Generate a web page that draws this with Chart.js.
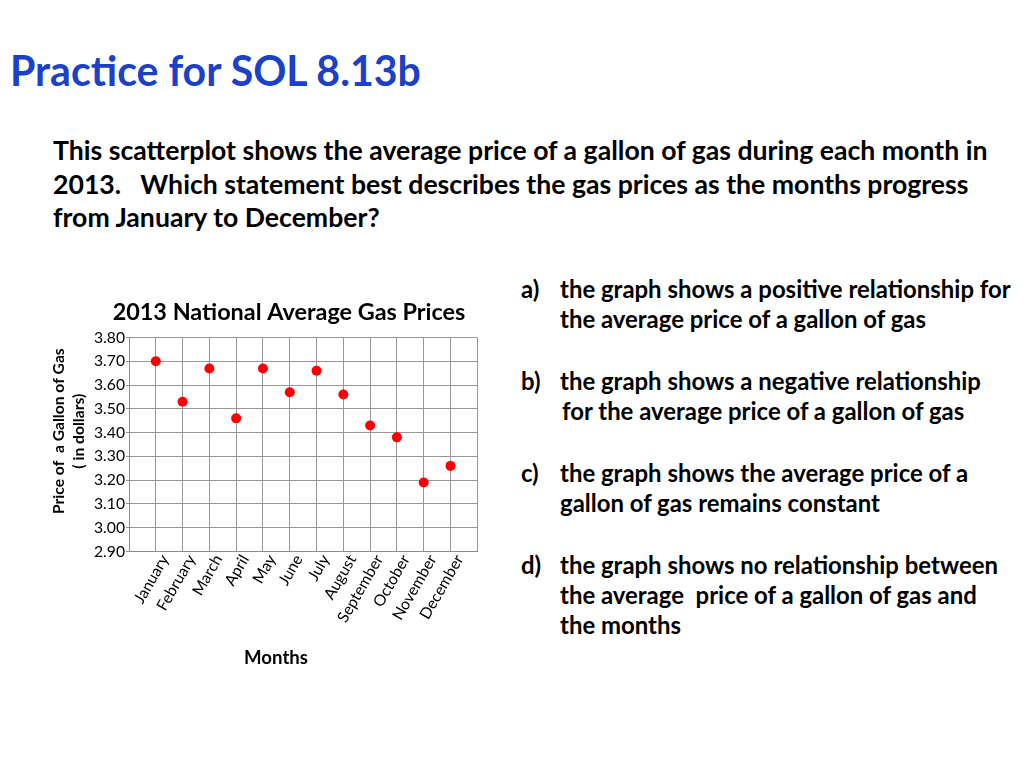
<!DOCTYPE html>
<html>
<head>
<meta charset="utf-8">
<script src="https://cdn.jsdelivr.net/npm/chart.js@4.4.1/dist/chart.umd.min.js"></script>
<style>
html,body{margin:0;padding:0;background:#fff;width:1024px;height:768px;overflow:hidden;font-family:Lato,'Open Sans',sans-serif;}
.t{position:absolute;white-space:pre;font-weight:bold;line-height:1;color:#000;left:0;top:0;}
.bl{display:inline-block;width:0;height:0;vertical-align:baseline;}
#title{color:#1c40c8;}
#chartBox{position:absolute;left:30px;top:290px;width:518px;height:400px;}
</style>
</head>
<body>
<div id="title" class="t g-title" data-x="10" data-b="86">Practice for SOL 8.13b<i class="bl"></i></div>

<div id="p1" class="t g-para" data-x="53" data-b="160">This scatterplot shows the average price of a gallon of gas during each month in<i class="bl"></i></div>
<div class="t g-para" data-x="53" data-b="193.5">2013.   Which statement best describes the gas prices as the months progress<i class="bl"></i></div>
<div class="t g-para" data-x="53" data-b="227">from January to December?<i class="bl"></i></div>

<div class="t g-opt" data-x="521" data-b="298">a)<i class="bl"></i></div>
<div id="a1" class="t g-opt" data-x="560" data-b="298">the graph shows a positive relationship for<i class="bl"></i></div>
<div class="t g-opt" data-x="560" data-b="328">the average price of a gallon of gas<i class="bl"></i></div>

<div class="t g-opt" data-x="521" data-b="390">b)<i class="bl"></i></div>
<div class="t g-opt" data-x="560" data-b="390">the graph shows a negative relationship<i class="bl"></i></div>
<div class="t g-opt" data-x="562" data-b="420">for the average price of a gallon of gas<i class="bl"></i></div>

<div class="t g-opt" data-x="521" data-b="482">c)<i class="bl"></i></div>
<div class="t g-opt" data-x="560" data-b="482">the graph shows the average price of a<i class="bl"></i></div>
<div class="t g-opt" data-x="560" data-b="512">gallon of gas remains constant<i class="bl"></i></div>

<div class="t g-opt" data-x="521" data-b="574">d)<i class="bl"></i></div>
<div class="t g-opt" data-x="560" data-b="574">the graph shows no relationship between<i class="bl"></i></div>
<div class="t g-opt" data-x="560" data-b="604">the average  price of a gallon of gas and<i class="bl"></i></div>
<div class="t g-opt" data-x="560" data-b="634">the months<i class="bl"></i></div>

<div id="chartBox"><canvas id="c"></canvas></div>

<script>
// ---- data ----
const months = ['January','February','March','April','May','June','July','August','September','October','November','December'];
const prices = [3.70, 3.53, 3.67, 3.46, 3.67, 3.57, 3.66, 3.56, 3.43, 3.38, 3.19, 3.26];
const yTickLabels = ['2.90','3.00','3.10','3.20','3.30','3.40','3.50','3.60','3.70','3.80'];
const xTickValues = [0,1,2,3,4,5,6,7,8,9,10,11,12,13];
const chartTitle = '2013 National Average Gas Prices';
const yTitleLines = ['Price of  a Gallon of Gas', '( in dollars)'];
const xTitleText = 'Months';

function fitGroup(cls, refId, targetW, baseFs){
  const els = document.querySelectorAll('.' + cls);
  els.forEach(e => e.style.fontSize = baseFs + 'px');
  const w = document.getElementById(refId).getBoundingClientRect().width;
  const fs = baseFs * targetW / w;
  els.forEach(e => e.style.fontSize = fs + 'px');
}
function placeAll(){
  document.querySelectorAll('.t').forEach(e => {
    e.style.left = e.dataset.x + 'px';
    e.style.top = '0px';
    const by = e.querySelector('.bl').getBoundingClientRect().top;
    e.style.top = (parseFloat(e.dataset.b) - by) + 'px';
  });
}
const mctx = document.createElement('canvas').getContext('2d');
function textW(text, weight, size){
  mctx.font = weight + ' ' + size + 'px Lato';
  return mctx.measureText(text).width;
}
function fitSize(text, weight, target){
  return 100 * target / textW(text, weight, 100);
}
function spaces(weight, size, px){
  const w = textW(' ', weight, size);
  return ' '.repeat(Math.max(0, Math.round(px / w)));
}

function build(){
  fitGroup('g-title', 'title', 411, 40);
  fitGroup('g-para', 'p1', 935, 22);
  fitGroup('g-opt', 'a1', 451, 21);
  placeAll();

  const titleSize = fitSize(chartTitle, 'bold', 353);
  const yTitleSize = fitSize(yTitleLines[0], 'bold', 166);
  const xTitleSize = fitSize(xTitleText, 'bold', 64);
  const yTickSize = fitSize('3.80', 'normal', 31);
  const xTickSize = fitSize('September', 'normal', 75);

  const grid = '#979797';
  const yTitleFont = {family:'Lato', size:yTitleSize, weight:'bold', lineHeight:20/yTitleSize};
  const xTitleFont = {family:'Lato', size:xTitleSize, weight:'bold', lineHeight:1.2};
  const lead = spaces('bold', yTitleSize, 28);
  const trail = spaces('bold', xTitleSize, 55);
  const titleLH = titleSize * 1.2;

  new Chart(document.getElementById('c'), {
    type: 'scatter',
    data: {
      datasets: [{
        data: prices.map((p, i) => ({x: i + 1, y: p})),
        backgroundColor: '#ff0000',
        borderColor: '#ff0000',
        borderWidth: 0,
        pointRadius: 5,
        pointHoverRadius: 5
      }]
    },
    options: {
      responsive: true,
      maintainAspectRatio: false,
      animation: false,
      events: [],
      layout: {padding: 0},
      plugins: {
        legend: {display: false},
        tooltip: {enabled: false},
        title: {
          display: true,
          text: chartTitle,
          color: '#000',
          font: {family:'Lato', size:titleSize, weight:'bold', lineHeight:1.2},
          padding: {top: 22 - titleLH / 2, bottom: 47.5 - 22 - titleLH / 2}
        }
      },
      scales: {
        x: {
          type: 'linear',
          min: 0, max: 13,
          afterBuildTicks: s => { s.ticks = xTickValues.map(v => ({value: v})); },
          afterFit: s => { s.height = 138.5; },
          grid: {color: grid, lineWidth: 1, drawTicks: false},
          border: {color: '#8a8a8a', width: 1},
          ticks: {
            autoSkip: false, minRotation: 60, maxRotation: 60,
            padding: 0, labelOffset: 9,
            color: '#000',
            font: {family:'Lato', size:xTickSize},
            callback: v => months[v - 1] || ''
          },
          title: {
            display: true,
            text: xTitleText + trail,
            color: '#000',
            font: xTitleFont,
            padding: {top: 0, bottom: 32 - xTitleSize * 0.6}
          }
        },
        y: {
          min: 2.9, max: 3.8,
          afterBuildTicks: s => { s.ticks = yTickLabels.map(t => ({value: parseFloat(t)})); },
          afterFit: s => { s.width = 99; },
          grid: {color: grid, lineWidth: 1, tickLength: 3},
          border: {color: '#8a8a8a', width: 1},
          ticks: {
            padding: 1,
            color: '#000',
            font: {family:'Lato', size:yTickSize},
            callback: (v, i) => yTickLabels[i]
          },
          title: {
            display: true,
            text: yTitleLines.map(l => lead + l),
            color: '#000',
            font: yTitleFont,
            padding: {top: 19, bottom: 0}
          }
        },
        // empty right-hand margin so the chart title stays centred over the whole box
        yRight: {
          position: 'right',
          display: true,
          min: 0, max: 1,
          grid: {display: false, drawTicks: false},
          border: {display: false},
          ticks: {display: false},
          afterFit: s => { s.width = 70.7; }
        }
      }
    }
  });
}

Promise.all([
  document.fonts.load('bold 20px Lato'),
  document.fonts.load('20px Lato')
]).catch(()=>{}).then(build);
</script>
</body>
</html>
